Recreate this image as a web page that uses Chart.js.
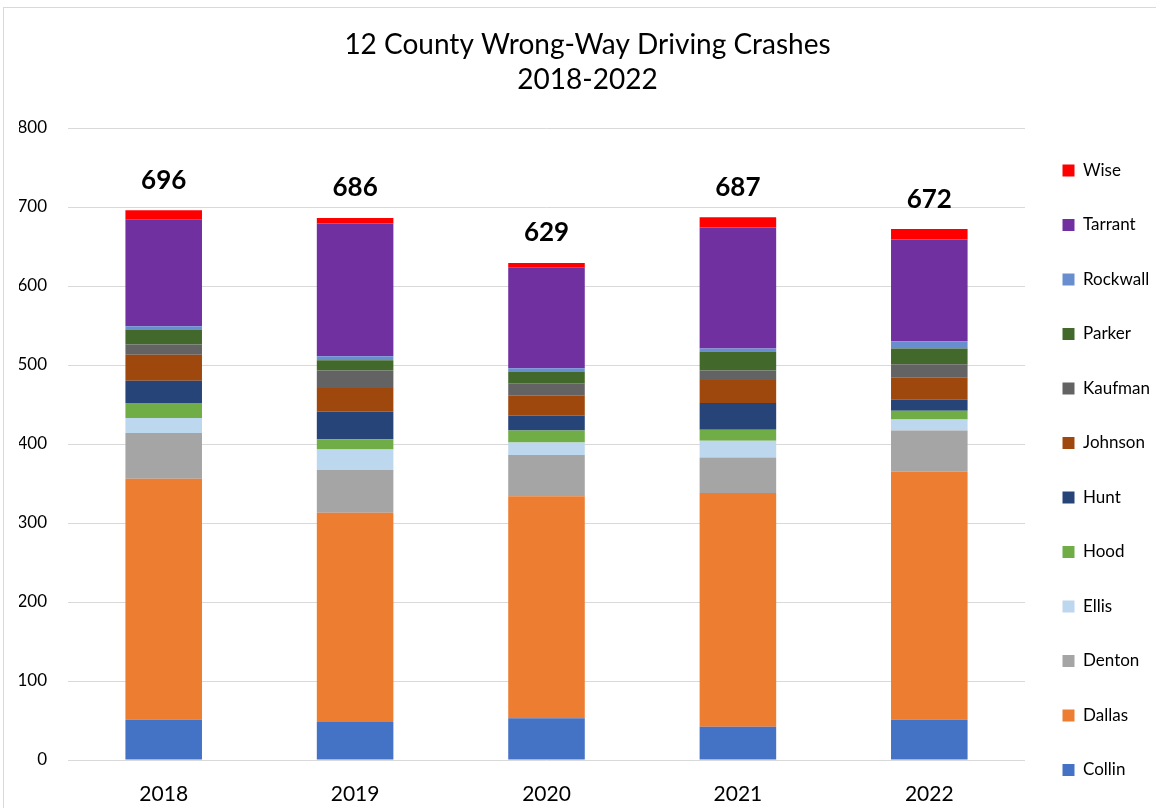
<!DOCTYPE html>
<html>
<head>
<meta charset="utf-8">
<title>12 County Wrong-Way Driving Crashes</title>
<script src="https://cdn.jsdelivr.net/npm/chart.js@4"></script>
<style>
  html, body { margin:0; padding:0; background:#fff; overflow:hidden; }
  .frame { position:absolute; left:3px; top:7px; width:1400px; height:1000px;
           border-left:1px solid #d9d9d9; border-top:1px solid #d9d9d9; pointer-events:none; }
  .wrap  { position:absolute; left:0; top:0; width:1156px; height:816px; }
</style>
</head>
<body>
<div class="frame"></div>
<div class="wrap"><canvas id="chartCrashes"></canvas></div>
<script>
// ============================================================
//  Wrong-way crashes by county, stacked per year
// ============================================================
const years    = ['2018', '2019', '2020', '2021', '2022'];
const counties = ['Collin', 'Dallas', 'Denton', 'Ellis', 'Hood', 'Hunt',
                  'Johnson', 'Kaufman', 'Parker', 'Rockwall', 'Tarrant', 'Wise'];

const collin   = [51, 48, 53, 42, 51];
const dallas   = [305, 265, 281, 296, 314];
const denton   = [58, 54, 52, 45, 52];
const ellis    = [19, 26, 16, 21, 14];
const hood     = [19, 13, 15, 14, 11];
const hunt     = [28, 35, 19, 34, 14];
const johnson  = [33, 30, 25, 29, 28];
const kaufman  = [13, 22, 16, 12, 17];
const parker   = [19, 13, 14, 24, 20];
const rockwall = [4, 5, 5, 4, 9];
const tarrant  = [135, 168, 127, 153, 129];
const wise     = [12, 7, 6, 13, 13];

const yTicks = [0, 100, 200, 300, 400, 500, 600, 700, 800];

const series = [collin, dallas, denton, ellis, hood, hunt, johnson, kaufman, parker, rockwall, tarrant, wise];
const colors = ['#4472c4', '#ed7d31', '#a5a5a5', '#bdd7ee', '#70ad47', '#264478',
                '#9e480e', '#636363', '#43682b', '#698ed0', '#7030a0', '#ff0000'];

const FONT = 'Lato, "Open Sans", sans-serif';

// totals above each stack
const totalsPlugin = {
  id: 'totals',
  afterDatasetsDraw(chart) {
    const { ctx, scales } = chart;
    const meta = chart.getDatasetMeta(series.length - 1);
    ctx.save();
    ctx.font = 'bold 26px ' + FONT;
    ctx.fillStyle = '#000';
    ctx.textAlign = 'center';
    ctx.textBaseline = 'middle';
    years.forEach((y, i) => {
      const total = series.reduce((s, arr) => s + arr[i], 0);
      const x = meta.data[i].x;
      ctx.fillText(String(total), x, scales.y.getPixelForValue(total) - 30);
    });
    ctx.restore();
  }
};

new Chart(document.getElementById('chartCrashes'), {
  type: 'bar',
  data: {
    labels: years,
    datasets: counties.map((name, k) => ({
      label: name,
      data: series[k],
      backgroundColor: colors[k],
      borderWidth: 0,
      barPercentage: 0.4,
      categoryPercentage: 1
    }))
  },
  options: {
    responsive: true,
    maintainAspectRatio: false,
    animation: false,
    layout: { padding: { left: 19, right: 0, top: 0, bottom: 0 } },
    plugins: {
      title: {
        display: true,
        text: ['12 County Wrong-Way Driving Crashes', '2018-2022'],
        color: '#000',
        font: { family: FONT, size: 28, weight: 'normal', lineHeight: 1.25 },
        padding: { top: 27, bottom: 31 }
      },
      legend: {
        position: 'right',
        align: 'end',
        reverse: true,
        maxWidth: 131,
        labels: {
          color: '#000',
          font: { family: FONT, size: 17 },
          boxWidth: 12,
          boxHeight: 12,
          padding: 37.5
        }
      },
      tooltip: { enabled: false }
    },
    scales: {
      x: {
        stacked: true,
        grid: { display: false },
        border: { display: false },
        ticks: { color: '#000', font: { family: FONT, size: 21 }, padding: 14 },
        afterFit(axis) { axis.height = 56; }
      },
      y: {
        stacked: true,
        min: yTicks[0],
        max: yTicks[yTicks.length - 1],
        afterBuildTicks(axis) { axis.ticks = yTicks.map(v => ({ value: v })); },
        grid: { color: '#d9d9d9', drawTicks: false },
        border: { display: false },
        ticks: { color: '#000', font: { family: FONT, size: 17 }, padding: 21 },
        afterFit(axis) { axis.width = 49; }
      }
    }
  },
  plugins: [totalsPlugin]
});
</script>
</body>
</html>
